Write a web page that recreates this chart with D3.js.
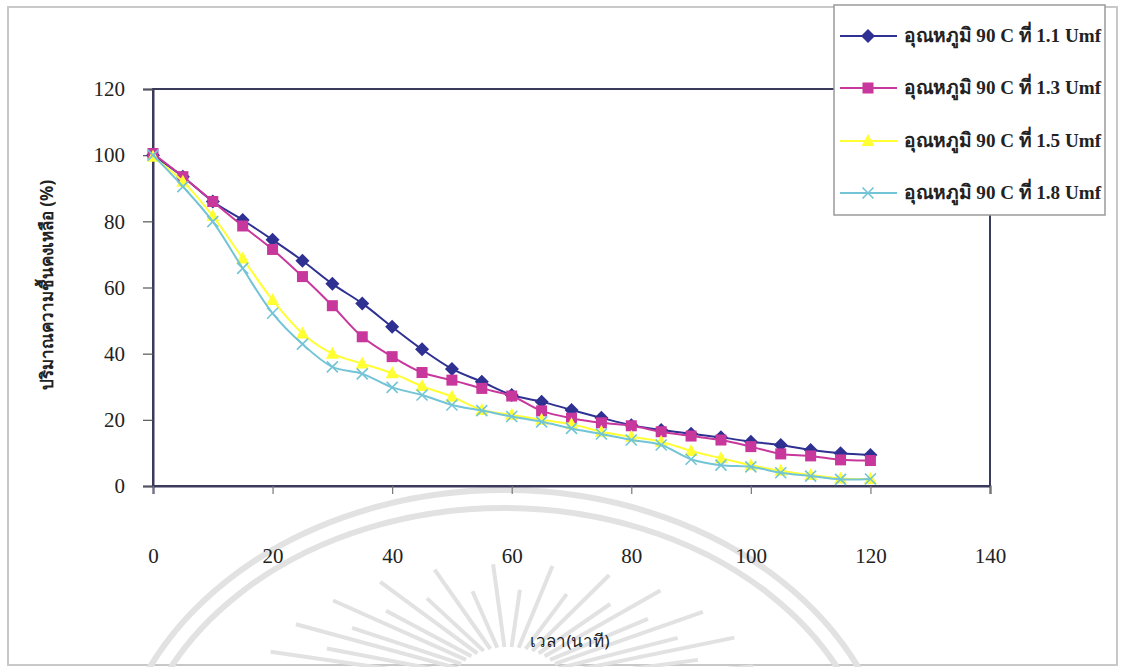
<!DOCTYPE html>
<html><head><meta charset="utf-8">
<script src="https://cdn.jsdelivr.net/npm/d3@7"></script>
<style>body{margin:0;background:#fff}svg{display:block}</style>
</head><body>
<script>
const times = [0,5,10,15,20,25,30,35,40,45,50,55,60,65,70,75,80,85,90,95,100,105,110,115,120];
const s11 = [100,93.5,86,80.4,74.4,68.1,61.1,55.2,48.1,41.3,35.4,31.5,27.5,25.5,23,20.6,18.4,16.9,15.8,14.7,13.4,12.4,10.9,9.9,9.4];
const s13 = [100.5,93.5,86,78.6,71.5,63.3,54.5,45.1,39.1,34.3,32,29.5,27.2,22.7,20.5,19.1,18.2,16.4,15.1,13.9,11.9,9.7,9.1,7.9,7.7];
const s15 = [99.5,92,81.6,68.8,56.2,46.1,40,37,34.1,30.2,27,23,21.5,20,18.7,16.4,14.9,13.4,10.6,8.4,6.3,4.6,3.3,2.3,2.1];
const s18 = [100,90.5,79.9,65.8,52.2,42.9,36,33.9,29.8,27.5,24.5,22.8,21,19.4,17.4,15.7,13.9,12.4,8.1,6.3,5.8,4.0,3.0,2.0,2.1];
const seriesNames = ["อุณหภูมิ 90 C ที่ 1.1 Umf","อุณหภูมิ 90 C ที่ 1.3 Umf","อุณหภูมิ 90 C ที่ 1.5 Umf","อุณหภูมิ 90 C ที่ 1.8 Umf"];
const xTicks = [0,20,40,60,80,100,120,140];
const yTicks = [0,20,40,60,80,100,120];
const xTitle = "เวลา(นาที)";
const yTitle = "ปริมาณความชื้นคงเหลือ (%)";

const W = 1121, H = 667;
const svg = d3.select("body").append("svg").attr("width", W).attr("height", H);

// page frame
svg.append("rect").attr("x",8).attr("y",7).attr("width",1109).attr("height",658)
  .attr("fill","none").attr("stroke","#c8c8c8").attr("stroke-width",2);

// faint watermark (decoration)
const wm = svg.append("g").attr("stroke","#e2e2e2").attr("fill","none");
[[392,310],[374,292]].forEach(([rx,ry]) => {
  wm.append("ellipse").attr("cx",504).attr("cy",800).attr("rx",rx).attr("ry",ry).attr("stroke-width",6);
});
for (let i = 0; i < 24; i++) {
  const ang = -Math.PI + 0.2 + i*(Math.PI-0.4)/23;
  const ox = 508, oy = 692;
  const rx0 = 60, ry0 = 45;
  const f = (i%2 ? 1 : 0.8);
  const rx1 = 250*f, ry1 = 128*f;
  wm.append("line").attr("x1",ox+rx0*Math.cos(ang)).attr("y1",oy+ry0*Math.sin(ang))
    .attr("x2",ox+rx1*Math.cos(ang)).attr("y2",oy+ry1*Math.sin(ang)).attr("stroke-width",4);
}

const x = d3.scaleLinear().domain([0,140]).range([153,990]);
const y = d3.scaleLinear().domain([0,120]).range([486,89]);
const axisColor = "#3a3a5c";

// plot frame (opaque plot area)
svg.append("rect").attr("x",x(0)).attr("y",y(120)).attr("width",x(140)-x(0)).attr("height",y(0)-y(120))
  .attr("fill","#fff").attr("stroke",axisColor).attr("stroke-width",2);

// y axis
const yAxis = svg.append("g").attr("transform",`translate(${x(0)},0)`)
  .call(d3.axisLeft(y).tickValues(yTicks).tickSize(10).tickPadding(18).tickFormat(d3.format("d")));
yAxis.select(".domain").attr("stroke",axisColor).attr("stroke-width",2);
yAxis.selectAll(".tick line").attr("stroke","#555").attr("stroke-width",1.2);
yAxis.selectAll("text").attr("font-family","'Liberation Serif','Times New Roman',serif")
  .attr("font-size",21).attr("fill","#222");

// x axis: ticks at bottom, labels far below
const xAxis = svg.append("g").attr("transform",`translate(0,${y(0)})`)
  .call(d3.axisBottom(x).tickValues(xTicks).tickSize(8).tickPadding(54).tickFormat(d3.format("d")));
xAxis.select(".domain").attr("stroke",axisColor).attr("stroke-width",2);
xAxis.selectAll(".tick line").attr("stroke","#777").attr("stroke-width",1.2);
xAxis.selectAll("text").attr("font-family","'Liberation Serif','Times New Roman',serif")
  .attr("font-size",21).attr("fill","#222");

// axis titles
svg.append("text").attr("x",570).attr("y",647).attr("text-anchor","middle")
  .attr("font-family","'Noto Sans','DejaVu Sans',sans-serif").attr("font-size",17).attr("fill","#222").text(xTitle);
svg.append("text").attr("transform","translate(53,285) rotate(-90)").attr("text-anchor","middle")
  .attr("font-family","'Noto Sans','DejaVu Sans',sans-serif").attr("font-weight","bold")
  .attr("font-size",17).attr("fill","#222").text(yTitle);

// series
const series = [
  {name: seriesNames[0], values: s11, color:"#2E3192", fill:"#2E3192", shape:"diamond"},
  {name: seriesNames[1], values: s13, color:"#C8379B", fill:"#C8379B", shape:"square"},
  {name: seriesNames[2], values: s15, color:"#FFFF33", fill:"#FFFF33", shape:"triangle"},
  {name: seriesNames[3], values: s18, color:"#72C4D6", fill:"none", shape:"cross"}
];
function marker(g, shape, color, fill) {
  if (shape === "diamond") g.append("path").attr("d","M0,-7L7,0L0,7L-7,0Z").attr("fill",fill);
  else if (shape === "square") g.append("rect").attr("x",-5.5).attr("y",-5.5).attr("width",11).attr("height",11).attr("fill",fill);
  else if (shape === "triangle") g.append("path").attr("d","M0,-7L6.5,5L-6.5,5Z").attr("fill",fill);
  else g.append("path").attr("d","M-5.5,-5.5L5.5,5.5M-5.5,5.5L5.5,-5.5").attr("stroke",color).attr("stroke-width",1.6).attr("fill","none");
}
const line = d3.line().x(d => x(d[0])).y(d => y(d[1])).curve(d3.curveCatmullRom.alpha(0.5));
series.forEach(s => {
  const pts = times.map((t,i) => [t, s.values[i]]);
  svg.append("path").datum(pts).attr("d", line).attr("fill","none").attr("stroke", s.color).attr("stroke-width",2);
  pts.forEach(p => {
    const g = svg.append("g").attr("transform",`translate(${x(p[0])},${y(p[1])})`);
    marker(g, s.shape, s.color, s.fill);
  });
});

// legend
const lg = svg.append("g");
lg.append("rect").attr("x",834).attr("y",5).attr("width",271).attr("height",210)
  .attr("fill","#fff").attr("stroke","#9a9a9a").attr("stroke-width",1.5);
const legY = [36, 88, 141, 193];
series.forEach((s,i) => {
  lg.append("line").attr("x1",840).attr("x2",897).attr("y1",legY[i]).attr("y2",legY[i])
    .attr("stroke",s.color).attr("stroke-width",2);
  const g = lg.append("g").attr("transform",`translate(868,${legY[i]})`);
  marker(g, s.shape, s.color, s.fill);
  lg.append("text").attr("x",904).attr("y",legY[i]+6).attr("font-family","'Liberation Serif','Times New Roman',serif")
    .attr("font-weight","bold").attr("font-size",19.5).attr("fill","#222").attr("textLength",197)
    .attr("lengthAdjust","spacingAndGlyphs").text(s.name);
});
</script>
</body></html>
